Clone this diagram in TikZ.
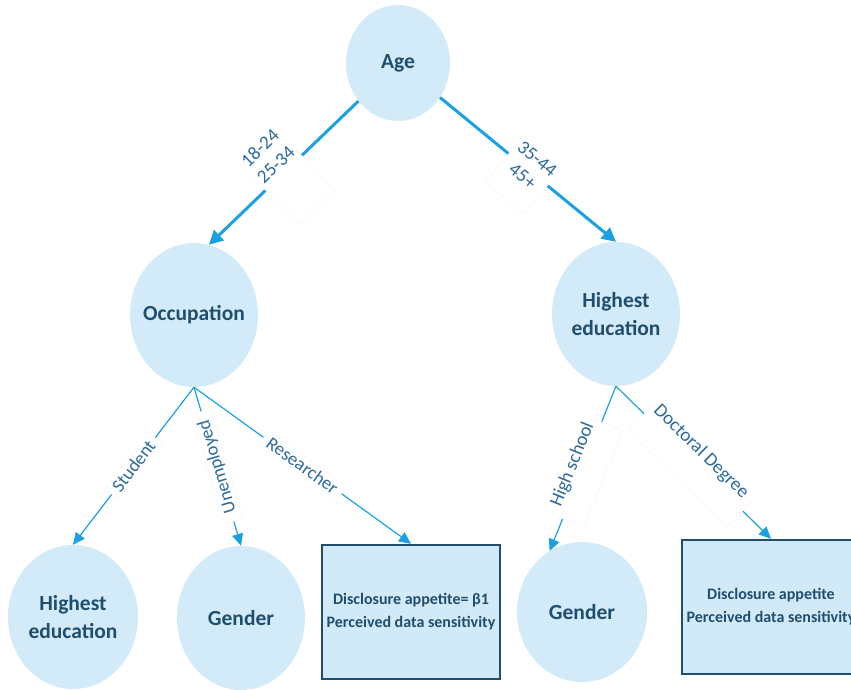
\documentclass[tikz,border=0pt]{standalone}
\usepackage{fontspec}
\setmainfont{Carlito}
\usetikzlibrary{shapes.geometric,arrows.meta}
\definecolor{ellfill}{HTML}{D3EBF8}
\definecolor{boxfill}{HTML}{D2EAF8}
\definecolor{boxline}{HTML}{1F4E6E}
\definecolor{nodetext}{HTML}{1F4E6E}
\definecolor{linkblue}{HTML}{1BA1E2}
\definecolor{labeltext}{HTML}{2A6A9E}
\begin{document}
\begin{tikzpicture}[x=1pt,y=-1pt,
  ell/.style={ellipse, fill=ellfill, inner sep=0pt},
  ntext/.style={text=nodetext, font=\fontsize{21.5}{28}\selectfont\bfseries, align=center, inner sep=0pt},
  outbox/.style={rectangle, fill=boxfill, draw=boxline, line width=2.4pt,
    minimum width=178pt, minimum height=134pt, text=nodetext,
    font=\fontsize{16}{23}\selectfont\bfseries, align=center},
  majorlink/.style={draw=linkblue, line width=3pt, -{Triangle[length=14pt,width=14pt]}},
  minorlink/.style={draw=linkblue, line width=1.2pt, -{Triangle[length=12pt,width=11pt]}},
  lbl/.style={sloped, text=labeltext, font=\fontsize{19}{23}\selectfont, align=center, inner sep=0pt},
  gapbox/.style={sloped, fill=white, draw=black!4, line width=0.5pt, inner sep=0pt},
  tightlbl/.style={sloped, fill=white, draw=black!4, line width=0.5pt, text=labeltext,
    font=\fontsize{18.5}{23}\selectfont, inner xsep=6pt, inner ysep=2pt},
]
\useasboundingbox (0,0) rectangle (851,689);
\clip (0,0) rectangle (851,689);

% decision nodes
\node[ell, minimum width=104pt, minimum height=116pt] (age) at (398,63) {};
\node[ntext] (age-t) at (age) {Age};
\node[ell, minimum width=128pt, minimum height=144pt] (occ) at (194,315) {};
\node[ntext] (occ-t) at (occ) {Occupation};
\node[ell, minimum width=128pt, minimum height=144pt] (edr) at (616,314) {};
\node[ntext] (edr-t) at (edr) {Highest\\education};

% leaves
\node[ell, minimum width=130pt, minimum height=144pt] (edl) at (73,617) {};
\node[ntext] (edl-t) at (edl) {Highest\\education};
\node[ell, minimum width=128pt, minimum height=144pt] (genl) at (241,618) {};
\node[ntext] (genl-t) at (genl) {Gender};
\node[outbox] (outl) at (411,612) {Disclosure appetite= β1\\Perceived data sensitivity};
\node[ell, minimum width=130pt, minimum height=140pt] (genr) at (582,612) {};
\node[ntext] (genr-t) at (genr) {Gender};
\node[outbox] (outr) at (771,607) {Disclosure appetite\\Perceived data sensitivity};

% age splits
\draw[majorlink] (age) -- (occ.78)
  node[gapbox, pos=.5, minimum width=50pt, minimum height=64pt, yshift=-16pt] (gap-a) {}
  node[lbl, pos=.5, yshift=23pt] (lab-a) {18-24\\25-34};
\draw[majorlink] (age) -- (edr.north)
  node[gapbox, pos=.5, minimum width=50pt, minimum height=58pt, yshift=-8pt] (gap-b) {}
  node[lbl, pos=.5, yshift=3pt] (lab-b) {35-44\\45+};

% occupation splits
\draw[minorlink] (occ.south) -- (edl.north)
  node[tightlbl, pos=.5] (lab-c) {Student};
\draw[minorlink] (occ.south) -- (genl.north)
  node[tightlbl, pos=.5, rotate=180, inner xsep=9pt] (lab-d) {Unemployed};
\draw[minorlink] (occ.south) -- (outl.north)
  node[tightlbl, pos=.5] (lab-e) {Researcher};

% education splits
\draw[minorlink] (edr.south) -- (genr.118)
  node[gapbox, pos=.51, minimum width=104pt, minimum height=34pt, yshift=-6pt] (gap-f) {}
  node[lbl, pos=.5, yshift=11pt] (lab-f) {High school};
\draw[minorlink] (edr.south) -- (outr.north)
  node[gapbox, pos=.5, minimum width=138pt, minimum height=34pt, yshift=-6pt] (gap-g) {}
  node[lbl, pos=.49, yshift=13pt] (lab-g) {Doctoral Degree};
\end{tikzpicture}
\end{document}
